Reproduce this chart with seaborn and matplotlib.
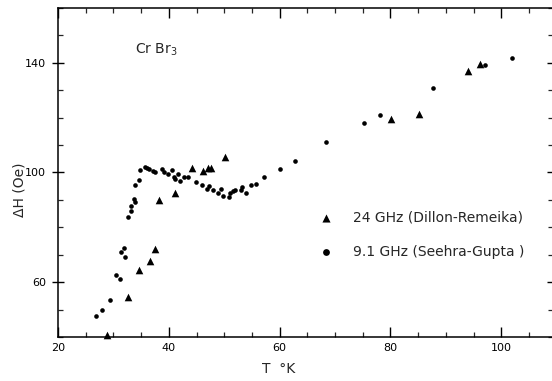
import matplotlib
matplotlib.use("Agg")
import matplotlib.pyplot as plt
import seaborn as sns
import pandas as pd
from matplotlib.ticker import MultipleLocator

# ---- data ----
T_dillon = [28.8, 32.6, 34.7, 36.6, 37.5, 38.2, 41.1, 44.1, 46.2, 47.0, 47.7,
            50.1, 80.1, 85.1, 94.0, 96.2]
H_dillon = [40.7, 54.5, 64.3, 67.8, 72.1, 90.0, 92.6, 101.8, 100.5, 101.5, 101.5,
            105.5, 119.6, 121.2, 137.0, 139.4]

T_seehra = [26.9, 28.0, 29.4, 30.5, 31.2, 31.4, 31.9, 32.1, 32.7, 33.1, 33.2,
            33.7, 33.9, 33.9, 34.7, 34.8, 35.7, 36.1, 36.5, 37.1, 37.5, 38.8,
            39.1, 39.9, 40.5, 40.9, 41.1, 41.7, 42.1, 42.7, 43.5, 44.9, 46.0,
            46.9, 47.3, 48.0, 48.9, 49.4, 49.8, 50.9, 51.0, 51.6, 51.9, 53.0,
            53.2, 53.9, 54.8, 55.7, 57.2, 60.1, 62.7, 68.3, 75.2, 78.2, 87.6,
            97.0, 102.0]
H_seehra = [47.7, 50.0, 53.6, 62.7, 61.2, 71.0, 72.3, 69.1, 83.7, 86.1, 87.9,
            90.3, 89.1, 95.4, 97.4, 100.9, 101.9, 101.5, 101.2, 100.7, 100.2, 101.2,
            100.1, 99.4, 100.9, 98.5, 97.5, 99.6, 96.8, 98.2, 98.5, 96.7, 95.4,
            94.0, 95.1, 93.6, 92.6, 93.8, 91.4, 90.9, 92.6, 93.4, 93.6, 93.6,
            94.6, 92.4, 95.4, 95.8, 98.5, 101.3, 104.1, 111.1, 118.2, 121.0, 130.8,
            139.2, 141.9]

label_dillon = "24 GHz (Dillon-Remeika)"
label_seehra = "9.1 GHz (Seehra-Gupta )"

x_major = [20, 40, 60, 80, 100]
y_major = [60, 100, 140]

df_d = pd.DataFrame({"T": T_dillon, "dH": H_dillon})
df_s = pd.DataFrame({"T": T_seehra, "dH": H_seehra})

sns.set_style("ticks")
plt.rcParams["font.family"] = ["DejaVu Sans"]

fig = plt.figure(figsize=(5.52, 3.81), dpi=100)
ax = fig.add_axes([58 / 552, 1 - 337 / 381, 495 / 552, 329 / 381])

sns.scatterplot(data=df_d, x="T", y="dH", marker="^", s=30, color="black",
                edgecolor="black", linewidth=0, ax=ax, clip_on=False, label=label_dillon)
sns.scatterplot(data=df_s, x="T", y="dH", marker="o", s=11, color="black",
                edgecolor="black", linewidth=0, ax=ax, clip_on=False, label=label_seehra)

ax.set_xlim(20, 109.35)
ax.set_ylim(40, 160)
ax.set_xticks(x_major)
ax.set_yticks(y_major)
ax.xaxis.set_minor_locator(MultipleLocator(5))
ax.yaxis.set_minor_locator(MultipleLocator(10))

for s in ax.spines.values():
    s.set_visible(True)
    s.set_linewidth(1.1)
    s.set_color("black")

ax.tick_params(which="major", direction="in", length=7, width=1.0,
               top=True, right=True, labelsize=8, pad=4, colors="black")
ax.tick_params(which="minor", direction="in", length=3.5, width=0.9,
               top=True, right=True)
ax.tick_params(axis="y", which="major", direction="inout", length=9)

ax.set_xlabel("T  °K", fontsize=10)
ax.xaxis.set_label_coords(0.446, -0.075)
ax.set_ylabel("ΔH (Oe)", fontsize=10)
ax.yaxis.set_label_coords(-0.063, 0.447)

ax.text(0.156, 0.872, "Cr Br$_3$", transform=ax.transAxes, fontsize=10,
        va="center", ha="left")

leg = ax.legend(frameon=False, loc="center left", bbox_to_anchor=(0.528, 0.31),
                fontsize=10, handlelength=1.0, handletextpad=1.45,
                labelspacing=1.45, borderpad=0, borderaxespad=0,
                markerscale=1.0)
hs = leg.legend_handles
hs[0].set_sizes([34])
hs[1].set_sizes([24])

fig.savefig("out.png", dpi=100, facecolor="white")
